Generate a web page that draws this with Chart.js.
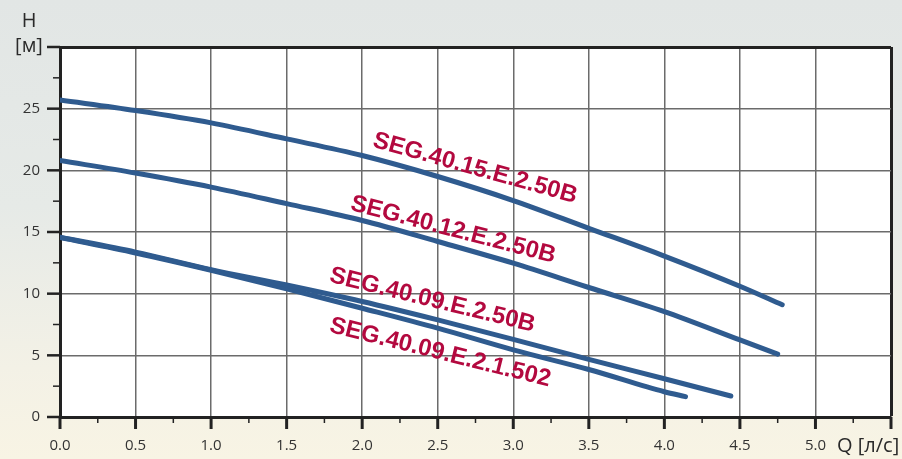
<!DOCTYPE html>
<html>
<head>
<meta charset="utf-8">
<script src="https://cdn.jsdelivr.net/npm/chart.js@4/dist/chart.umd.min.js"></script>
<style>
    html, body {
        margin: 0;
        padding: 0;
        width: 902px;
        height: 459px;
        overflow: hidden;
        background: linear-gradient(180deg, #e2e6e5 0%, #e6eae7 45%, #f3f1e6 80%, #f8f4e4 100%);
    }
    canvas { display: block; }
</style>
</head>
<body>
<canvas id="pumpChart" width="902" height="459"></canvas>
<script>
// Q [л/с] and H [м]
const q15 = [0, 0.5, 1.0, 1.5, 2.0, 2.5, 3.0, 3.5, 4.0, 4.5, 4.78];
const h15 = [25.7, 24.85, 23.85, 22.55, 21.2, 19.5, 17.55, 15.3, 13.05, 10.6, 9.1];

const q12 = [0, 0.5, 1.0, 1.5, 2.0, 2.5, 3.0, 3.5, 4.0, 4.5, 4.75];
const h12 = [20.8, 19.78, 18.64, 17.3, 15.93, 14.23, 12.47, 10.5, 8.55, 6.25, 5.1];

const q09b = [0, 0.5, 1.0, 1.5, 2.0, 2.5, 3.0, 3.5, 4.0, 4.44];
const h09b = [14.58, 13.37, 11.95, 10.7, 9.36, 7.87, 6.3, 4.67, 3.1, 1.7];

const q09s = [0, 0.5, 1.0, 1.5, 2.0, 2.5, 3.0, 3.5, 4.0, 4.14];
const h09s = [14.55, 13.3, 11.9, 10.4, 8.82, 7.2, 5.44, 3.85, 2.05, 1.65];

const seriesNames = ['SEG.40.15.E.2.50B', 'SEG.40.12.E.2.50B', 'SEG.40.09.E.2.50B', 'SEG.40.09.E.2.1.502'];

const xAxisTitle = 'Q [л/с]';
const yAxisTitle = ['H', '[м]'];

// where each curve name sits (data coords of baseline start) and its slant
const labelAnchors = [
    { q: 2.064, h: 21.94, angle: 15.6 },
    { q: 1.916, h: 16.8, angle: 14.6 },
    { q: 1.777, h: 10.98, angle: 13.8 },
    { q: 1.777, h: 6.92, angle: 14.0 },
];

const lineColor = '#2f5b8f';
const labelColor = '#b3093f';
const tickFont = { family: '"Open Sans", sans-serif', size: 15 };

function pts(qs, hs) {
    return qs.map((q, i) => ({ x: q, y: hs[i] }));
}

const curves = [[q15, h15], [q12, h12], [q09b, h09b], [q09s, h09s]];

const plotBackground = {
    id: 'plotBackground',
    beforeDraw(chart) {
        const { ctx, chartArea: a } = chart;
        ctx.save();
        ctx.fillStyle = '#ffffff';
        ctx.fillRect(a.left, a.top, a.right - a.left, a.bottom - a.top);
        ctx.restore();
    },
};

const outerTicks = {
    id: 'outerTicks',
    afterDraw(chart) {
        const { ctx, chartArea: a } = chart;
        const xs = chart.scales.x;
        const ys = chart.scales.y;
        ctx.save();
        ctx.strokeStyle = '#222';
        xs.ticks.forEach((t) => {
            const major = Math.abs(t.value * 2 - Math.round(t.value * 2)) < 1e-9;
            const px = xs.getPixelForValue(t.value);
            ctx.lineWidth = major ? 3 : 1.5;
            ctx.beginPath();
            ctx.moveTo(px, a.bottom);
            ctx.lineTo(px, a.bottom + (major ? 12 : 6));
            ctx.stroke();
        });
        ys.ticks.forEach((t) => {
            const major = t.value % 5 === 0;
            const py = ys.getPixelForValue(t.value);
            ctx.lineWidth = major ? 2.5 : 1.5;
            ctx.beginPath();
            ctx.moveTo(a.left, py);
            ctx.lineTo(a.left - (major ? 13 : 7), py);
            ctx.stroke();
        });

        // axis titles
        ctx.fillStyle = '#2a2a2a';
        ctx.font = '20px "Open Sans", sans-serif';
        ctx.textBaseline = 'middle';
        ctx.textAlign = 'center';
        ctx.fillText(yAxisTitle[0], 29, 21);
        ctx.fillText(yAxisTitle[1], 29, 46);
        ctx.textAlign = 'left';
        ctx.fillText(xAxisTitle, 837, 446);
        ctx.restore();
    },
};

const curveLabels = {
    id: 'curveLabels',
    afterDatasetsDraw(chart) {
        const { ctx } = chart;
        const xs = chart.scales.x;
        const ys = chart.scales.y;
        ctx.save();
        ctx.fillStyle = labelColor;
        ctx.font = 'bold 24px "Liberation Sans", Arial, sans-serif';
        ctx.textBaseline = 'alphabetic';
        ctx.textAlign = 'left';
        labelAnchors.forEach((lb, i) => {
            ctx.save();
            ctx.translate(xs.getPixelForValue(lb.q), ys.getPixelForValue(lb.h));
            ctx.rotate(lb.angle * Math.PI / 180);
            ctx.fillText(seriesNames[i], 0, 0);
            ctx.restore();
        });
        ctx.restore();
    },
};

new Chart(document.getElementById('pumpChart'), {
    type: 'scatter',
    data: {
        datasets: curves.map(([qs, hs], i) => ({
            label: seriesNames[i],
            data: pts(qs, hs),
            showLine: true,
            borderColor: lineColor,
            borderWidth: 5,
            borderCapStyle: 'round',
            borderJoinStyle: 'round',
            pointRadius: 0,
            cubicInterpolationMode: 'monotone',
            fill: false,
        })),
    },
    options: {
        responsive: false,
        animation: false,
        layout: { padding: { top: 47, right: 11, left: 0, bottom: 0 } },
        plugins: {
            legend: { display: false },
            tooltip: { enabled: false },
        },
        scales: {
            x: {
                type: 'linear',
                min: 0,
                max: 5.5,
                afterFit: (s) => {
                    s.height = 42;
                    s.paddingLeft = 0;
                    s.paddingRight = 0;
                },
                border: { color: '#222', width: 3 },
                grid: {
                    drawTicks: false,
                    color: (c) => {
                        const v = c.tick.value;
                        if (v >= 5.5) return '#222';
                        return Math.abs(v * 2 - Math.round(v * 2)) < 1e-9 ? '#6b6b6b' : 'rgba(0,0,0,0)';
                    },
                    lineWidth: (c) => (c.tick.value >= 5.5 ? 3 : 1.5),
                },
                ticks: {
                    stepSize: 0.25,
                    autoSkip: false,
                    maxRotation: 0,
                    padding: 20,
                    color: '#333',
                    font: tickFont,
                    callback: (v) => (Math.abs(v * 2 - Math.round(v * 2)) < 1e-9 && v <= 5 ? v.toFixed(1) : ''),
                },
            },
            y: {
                type: 'linear',
                min: 0,
                max: 30,
                afterFit: (s) => {
                    s.width = 60;
                    s.paddingTop = 0;
                    s.paddingBottom = 0;
                },
                border: { color: '#222', width: 3 },
                grid: {
                    drawTicks: false,
                    color: (c) => {
                        const v = c.tick.value;
                        if (v >= 30) return '#222';
                        return v % 5 === 0 ? '#6b6b6b' : 'rgba(0,0,0,0)';
                    },
                    lineWidth: (c) => (c.tick.value >= 30 ? 3 : 1.5),
                },
                ticks: {
                    stepSize: 2.5,
                    autoSkip: false,
                    padding: 20,
                    color: '#333',
                    font: tickFont,
                    callback: (v) => (v % 5 === 0 && v < 30 ? String(v) : ''),
                },
            },
        },
    },
    plugins: [plotBackground, outerTicks, curveLabels],
});
</script>
</body>
</html>
